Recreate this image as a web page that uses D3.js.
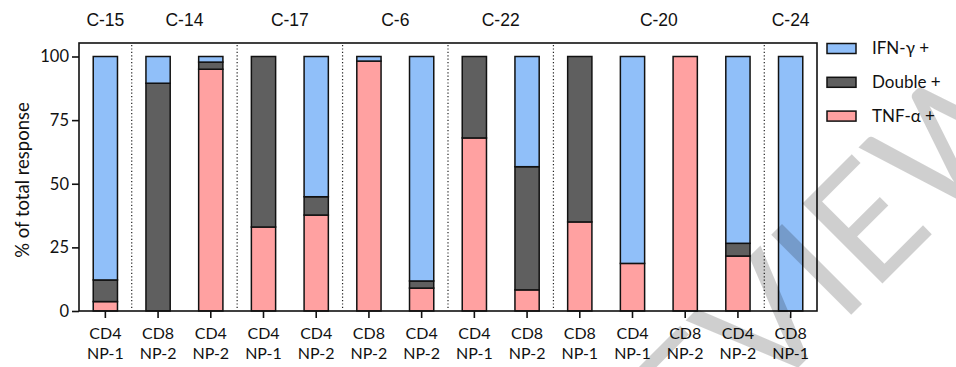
<!DOCTYPE html>
<html>
<head>
<meta charset="utf-8">
<script src="https://cdn.jsdelivr.net/npm/d3@7"></script>
<style>
  html, body { margin: 0; padding: 0; background: #fff; }
  svg { display: block; }
</style>
</head>
<body>
<svg id="chart" width="956" height="367"></svg>
<script>
// Donor groups and which bars belong to each
const donors = ["C-15", "C-14", "C-17", "C-6", "C-22", "C-20", "C-24"];
const barDonor = ["C-15", "C-14", "C-14", "C-17", "C-17", "C-6", "C-6", "C-22", "C-22", "C-20", "C-20", "C-20", "C-20", "C-24"];
const cellType = ["CD4", "CD8", "CD4", "CD4", "CD4", "CD8", "CD4", "CD4", "CD8", "CD8", "CD4", "CD8", "CD4", "CD8"];
const peptide  = ["NP-1", "NP-2", "NP-2", "NP-1", "NP-2", "NP-2", "NP-2", "NP-1", "NP-2", "NP-1", "NP-1", "NP-2", "NP-2", "NP-1"];

// Share of total response (%) per bar
const tnfPos    = [3.7, 0, 95, 33, 37.7, 98.2, 9, 68, 8.3, 35, 18.7, 100, 21.6, 0];
const doublePos = [8.5, 89.5, 2.8, 67, 7.2, 0, 2.8, 32, 48.4, 65, 0, 0, 5, 0];
const ifnPos    = [87.8, 10.5, 2.2, 0, 55.1, 1.8, 88.2, 0, 43.3, 0, 81.3, 0, 73.4, 100];

const yTicks = [0, 25, 50, 75, 100];
const seriesNames = ["TNF-α +", "Double +", "IFN-γ +"];
const seriesColors = ["#ffa1a1", "#5f5f5f", "#90bff9"];

const svg = d3.select("#chart");
const plotLeft = 79, plotRight = 817, plotTop = 43, plotBottom = 311;

const ids = d3.range(barDonor.length);
const x = d3.scaleBand().domain(ids).range([plotLeft, plotRight]).paddingInner(0.54).paddingOuter(0.27);
const step = x.step();
const y = d3.scaleLinear().domain([0, 100]).range([plotBottom, 56.5]);

const rows = ids.map(i => ({ id: i, tnf: tnfPos[i], dbl: doublePos[i], ifn: ifnPos[i] }));
const stack = d3.stack().keys(["tnf", "dbl", "ifn"]);
const layers = stack(rows);

// stacked bars
svg.append("g").selectAll("g")
  .data(layers)
  .join("g")
  .attr("fill", (d, i) => seriesColors[i])
  .selectAll("rect")
  .data(d => d.filter(s => s[1] - s[0] > 0))
  .join("rect")
  .attr("x", d => x(d.data.id))
  .attr("width", x.bandwidth())
  .attr("y", d => y(d[1]))
  .attr("height", d => y(d[0]) - y(d[1]))
  .attr("stroke", "#111")
  .attr("stroke-width", 1.5);

// dotted separators between donors
const sepAfter = ids.filter(i => i < ids.length - 1 && barDonor[i] !== barDonor[i + 1]);
svg.append("g").selectAll("line")
  .data(sepAfter)
  .join("line")
  .attr("x1", i => x(i) + x.bandwidth() / 2 + step / 2)
  .attr("x2", i => x(i) + x.bandwidth() / 2 + step / 2)
  .attr("y1", plotTop + 2)
  .attr("y2", plotBottom - 3)
  .attr("stroke", "#222")
  .attr("stroke-width", 1.2)
  .attr("stroke-dasharray", "1.2,2.2");

// frame
svg.append("rect")
  .attr("x", plotLeft).attr("y", plotTop)
  .attr("width", plotRight - plotLeft).attr("height", plotBottom - plotTop)
  .attr("fill", "none").attr("stroke", "#111").attr("stroke-width", 1.6);

// y axis
const yAxis = svg.append("g")
  .attr("transform", `translate(${plotLeft},0)`)
  .call(d3.axisLeft(y).tickValues(yTicks).tickSize(7).tickSizeOuter(0).tickPadding(3));
yAxis.select(".domain").remove();
yAxis.selectAll(".tick line").attr("stroke", "#111").attr("stroke-width", 1.6);
yAxis.selectAll(".tick text")
  .attr("font-family", "Lato, sans-serif").attr("font-size", 16.5).attr("fill", "#111");

// x axis with two-line labels
const xAxis = svg.append("g")
  .attr("transform", `translate(0,${plotBottom})`)
  .call(d3.axisBottom(x).tickSize(7).tickSizeOuter(0).tickFormat(""));
xAxis.select(".domain").remove();
xAxis.selectAll(".tick line").attr("stroke", "#111").attr("stroke-width", 1.6);
xAxis.selectAll(".tick").each(function (i) {
  const t = d3.select(this).append("text")
    .attr("text-anchor", "middle")
    .attr("font-family", "Lato, sans-serif").attr("font-size", 16).attr("fill", "#111");
  t.append("tspan").attr("x", 0).attr("y", 28).text(cellType[i]);
  t.append("tspan").attr("x", 0).attr("y", 48).text(peptide[i]);
});

// donor labels on top
svg.append("g").selectAll("text")
  .data(donors)
  .join("text")
  .attr("x", dn => {
    const members = ids.filter(i => barDonor[i] === dn);
    return d3.mean(members, i => x(i) + x.bandwidth() / 2);
  })
  .attr("y", 25.5)
  .attr("text-anchor", "middle")
  .attr("font-family", "'Liberation Sans', Arial, sans-serif")
  .attr("font-size", 17.5)
  .attr("fill", "#111")
  .text(d => d);

// y title
svg.append("text")
  .attr("transform", "translate(29,180) rotate(-90)")
  .attr("text-anchor", "middle")
  .attr("font-family", "Lato, sans-serif")
  .attr("font-size", 18.5)
  .attr("fill", "#111")
  .text("% of total response");

// legend (top entry first)
const legendOrder = [2, 1, 0];
const lg = svg.append("g").selectAll("g")
  .data(legendOrder)
  .join("g")
  .attr("transform", (s, k) => `translate(827,${43.5 + k * 33.8})`);
lg.append("rect")
  .attr("width", 29).attr("height", 10)
  .attr("fill", s => seriesColors[s])
  .attr("stroke", "#111").attr("stroke-width", 1.5);
lg.append("text")
  .attr("x", 45).attr("y", 5).attr("dy", "0.35em")
  .attr("font-family", "Lato, sans-serif").attr("font-size", 17).attr("fill", "#111")
  .text(s => seriesNames[s]);

// watermark
svg.append("text")
  .attr("transform", "translate(808,358) rotate(-45)")
  .attr("text-anchor", "middle")
  .attr("font-family", "Lato, sans-serif")
  .attr("font-size", 158)
  .attr("fill", "#000")
  .attr("fill-opacity", 0.19)
  .text("PREVIEW");
</script>
</body>
</html>
